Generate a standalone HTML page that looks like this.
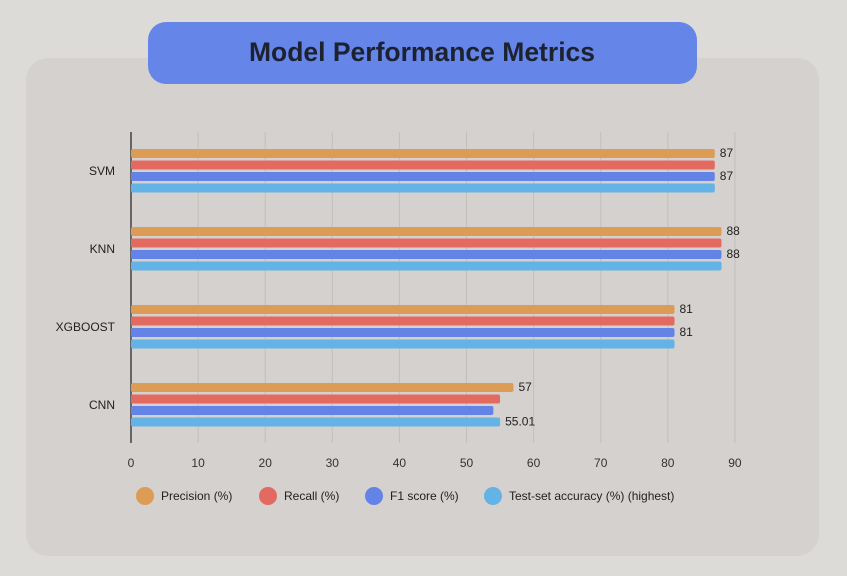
<!DOCTYPE html>
<html><head><meta charset="utf-8"><style>
body{margin:0;width:847px;height:571px;background:#dddbd7;overflow:hidden;font-family:"Liberation Sans",sans-serif;}
</style></head><body>
<svg width="847" height="571" id="chart">
<rect x="26" y="58" width="793" height="498" rx="22" fill="#d4d1ce"/>
<rect x="148" y="22" width="549" height="62" rx="18" fill="#6585e8"/>
<text x="422" y="61" text-anchor="middle" font-size="26.5" font-weight="bold" fill="#1c2230">Model Performance Metrics</text>
<g id="grid"></g><g id="bars"></g><g id="labels"></g><g id="legend"></g>
</svg>
<script>
const categories=["SVM","KNN","XGBOOST","CNN"];
const precision=[87,88,81,57];
const recall=[87,88,81,55];
const f1=[87,88,81,54];
const accuracy=[87,88,81,55.01];
const seriesNames=["Precision (%)","Recall (%)","F1 score (%)","Test-set accuracy (%) (highest)"];
const ticks=[0,10,20,30,40,50,60,70,80,90];
const NS="http://www.w3.org/2000/svg";
const X0=131,SC=6.71,TOP=132,BOT=443,G0=171,GSTEP=78;
const x=v=>X0+v*SC;
const colors=["#dc9c55","#e36a60","#6483e6","#63b3e6"];
const series=[precision,recall,f1,accuracy];
function mk(t,a,p){const e=document.createElementNS(NS,t);for(const k in a)e.setAttribute(k,a[k]);document.getElementById(p).appendChild(e);return e;}
ticks.forEach(t=>{
 if(t>0){const l=mk("line",{x1:x(t),x2:x(t),y1:TOP,y2:BOT,stroke:"#c3c0bc","stroke-width":1},"grid");
 
 }
 const tx=mk("text",{x:x(t),y:467,"text-anchor":"middle","font-size":12,fill:"#333"},"labels");
 tx.textContent=t;
 
 
});
const ax=mk("line",{x1:X0,x2:X0,y1:TOP,y2:BOT,stroke:"#666","stroke-width":2},"grid");


categories.forEach((c,i)=>{
 const cy=G0+i*GSTEP;
 const lb=mk("text",{x:115,y:cy+4,"text-anchor":"end","font-size":12,fill:"#222"},"labels");
 lb.textContent=c;
 
 
 series.forEach((s,j)=>{
  const y=cy-22+j*11.5;
  const r=mk("rect",{x:X0,y:y,width:x(s[i])-X0,height:9,rx:2,fill:colors[j]},"bars");
  
  
 });
 [[0,precision[i]],[2,i===3?accuracy[i]:f1[i]]].forEach(([j,v])=>{
  const vy=cy-22+(i===3&&j===2?3:j)*11.5+8;
  const vx=x(i===3&&j===2?accuracy[i]:series[j][i])+5;
  const t=mk("text",{x:vx,y:vy,"font-size":12,fill:"#222"},"labels");
  t.textContent=v;
  
  
 });
});
const lx=[145,268,374,493];
seriesNames.forEach((n,j)=>{
 const c=mk("circle",{cx:lx[j],cy:496,r:9,fill:colors[j]},"legend");
 
 
 const t=mk("text",{x:lx[j]+16,y:500,"font-size":12,fill:"#222"},"legend");
 t.textContent=n;
 
 
});
</script>
</body></html>
